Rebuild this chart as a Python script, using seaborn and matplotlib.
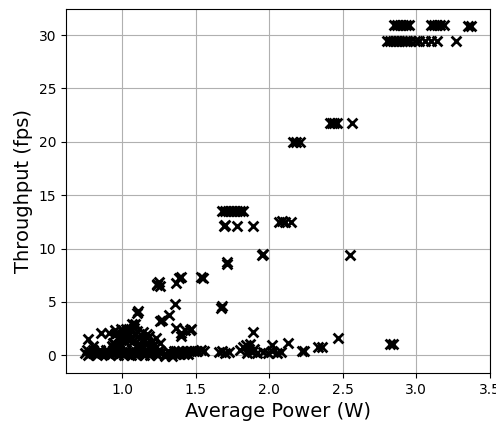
import numpy as np
import pandas as pd
import matplotlib
matplotlib.use("Agg")
import matplotlib.pyplot as plt
import seaborn as sns

# high throughput configurations (top right)
power_high = [2.80, 2.82, 2.84, 2.86, 2.88, 2.90, 2.92, 2.94, 2.96, 2.99, 3.02, 3.06, 3.10, 3.14, 3.27,
              2.85, 2.87, 2.89, 2.91, 2.93, 2.95, 3.10, 3.12, 3.14, 3.16, 3.19, 3.35, 3.37,
              2.41, 2.43, 2.44, 2.46, 2.56, 2.16, 2.18, 2.21]
fps_high = [29.4, 29.4, 29.4, 29.4, 29.4, 29.4, 29.4, 29.4, 29.4, 29.4, 29.4, 29.4, 29.4, 29.4, 29.4,
            30.9, 30.9, 30.9, 30.9, 30.9, 30.9, 30.9, 30.9, 30.9, 30.9, 30.9, 30.8, 30.8,
            21.8, 21.8, 21.8, 21.8, 21.8, 20.0, 20.0, 20.0]

# middle range
power_mid = [1.68, 1.70, 1.72, 1.74, 1.76, 1.78, 1.80, 1.82, 1.69, 1.70, 1.78, 1.89,
             2.07, 2.09, 2.11, 2.15, 1.96, 1.95, 2.55, 1.71, 1.71, 1.55, 1.54, 1.40, 1.39,
             1.37, 1.24, 1.25, 1.26, 1.24, 1.36, 1.68, 1.67, 1.11, 1.10]
fps_mid = [13.5, 13.5, 13.5, 13.5, 13.5, 13.5, 13.5, 13.5, 12.1, 12.2, 12.1, 12.1,
           12.5, 12.6, 12.5, 12.5, 9.5, 9.4, 9.4, 8.7, 8.6, 7.2, 7.3, 7.3, 7.2,
           6.8, 6.6, 6.9, 6.5, 6.7, 4.8, 4.6, 4.4, 4.2, 4.0]

# low throughput cloud
power_low = [0.75, 0.78, 0.81, 0.84, 0.87, 0.90, 0.93, 0.96, 0.99, 1.02, 1.05, 1.08, 1.11, 1.14,
             1.17, 1.20, 1.23, 1.26,
             0.76, 0.80, 0.85, 0.89, 0.94, 0.98, 1.03, 1.07, 1.12, 1.16, 1.21, 1.25,
             0.77, 0.83, 0.92, 0.97, 1.01, 1.06, 1.10, 1.15, 1.19, 1.24,
             0.79, 0.86, 0.95, 1.00, 1.04, 1.13, 1.18, 1.22, 0.82, 0.88, 0.91, 1.09,
             1.30, 1.33, 1.36, 1.39, 1.42, 1.45, 1.31, 1.35, 1.38, 1.41, 1.44, 1.47, 1.29, 1.34,
             1.32, 1.37, 1.43,
             0.77, 0.80, 0.86, 0.91, 0.95, 0.97, 1.00, 1.02, 1.04, 1.06, 1.08, 1.10, 0.96, 0.99,
             1.02, 1.05, 1.09, 1.07, 1.12, 1.14, 1.16, 1.18, 1.20, 1.23, 1.26, 1.13, 1.17, 1.21,
             0.94, 0.97, 1.00, 1.03, 1.06, 0.94, 0.98, 1.01, 1.04, 1.08, 0.95, 0.99, 1.03,
             1.07, 1.11, 1.15, 1.19, 1.10, 1.14, 1.22, 0.93, 1.01,
             1.09, 1.27, 1.32, 1.37, 1.40, 1.40, 1.43, 1.46, 1.47, 1.26,
             1.49, 1.51, 1.54, 1.56, 1.66, 1.68, 1.70, 1.73, 1.80, 1.82, 1.84, 1.86, 1.88,
             1.85, 1.87, 1.90, 1.92, 1.89, 1.96, 1.99, 2.02, 2.05, 2.08, 2.02, 2.13,
             2.22, 2.24, 2.33, 2.36, 2.47, 2.82, 2.84]
fps_low = [0.2, 0.2, 0.2, 0.2, 0.2, 0.2, 0.2, 0.2, 0.2, 0.2, 0.2, 0.2, 0.2, 0.2,
           0.2, 0.2, 0.2, 0.2,
           0.5, 0.5, 0.5, 0.5, 0.5, 0.5, 0.5, 0.5, 0.5, 0.5, 0.5, 0.5,
           0.0, 0.0, 0.0, 0.0, 0.0, 0.0, 0.0, 0.0, 0.0, 0.0,
           0.3, 0.3, 0.3, 0.3, 0.3, 0.3, 0.3, 0.3, 0.1, 0.1, 0.1, 0.1,
           0.1, 0.1, 0.1, 0.1, 0.1, 0.1, 0.4, 0.4, 0.4, 0.4, 0.4, 0.4, -0.1, -0.1,
           0.25, 0.25, 0.25,
           1.5, 0.9, 2.1, 2.1, 2.4, 1.6, 2.3, 1.3, 1.9, 2.4, 2.6, 1.0, 1.0, 0.9,
           1.8, 1.4, 1.9, 2.9, 1.6, 2.2, 1.1, 1.8, 1.3, 1.6, 1.2, 0.9, 2.0, 1.0,
           1.2, 1.5, 1.8, 2.1, 2.5, 0.8, 1.1, 1.6, 2.2, 1.4, 2.0, 2.5, 2.5,
           1.3, 0.8, 1.5, 0.8, 2.3, 0.7, 1.0, 0.9, 1.8,
           2.9, 3.3, 3.8, 2.6, 2.1, 1.8, 2.4, 2.4, 2.5, 3.2,
           0.4, 0.4, 0.5, 0.4, 0.3, 0.4, 0.2, 0.3, 0.5, 0.8, 1.0, 0.6, 0.3,
           0.2, 1.1, 0.6, 0.2, 2.2, 0.3, 0.2, 1.0, 0.2, 0.3, 0.4, 1.2,
           0.4, 0.4, 0.8, 0.8, 1.6, 1.1, 1.1]

df = pd.DataFrame({
    "power": power_high + power_mid + power_low,
    "fps": fps_high + fps_mid + fps_low,
})

fig = plt.figure(figsize=(4.96, 4.21), dpi=100)
ax = fig.add_axes([0.133, 0.114, 0.855, 0.865])

sns.scatterplot(data=df, x="power", y="fps", marker="x", color="black",
                s=50, linewidth=2.0, ax=ax, zorder=3)

ax.grid(True, color="#b0b0b0", linewidth=0.8)
ax.set_axisbelow(True)
ax.set_xlabel("Average Power (W)", fontsize=14)
ax.set_ylabel("Throughput (fps)", fontsize=14)
ax.tick_params(labelsize=10)
ax.set_xticks([1.0, 1.5, 2.0, 2.5, 3.0, 3.5])
ax.set_yticks([0, 5, 10, 15, 20, 25, 30])

fig.savefig("out.png", dpi=100)
